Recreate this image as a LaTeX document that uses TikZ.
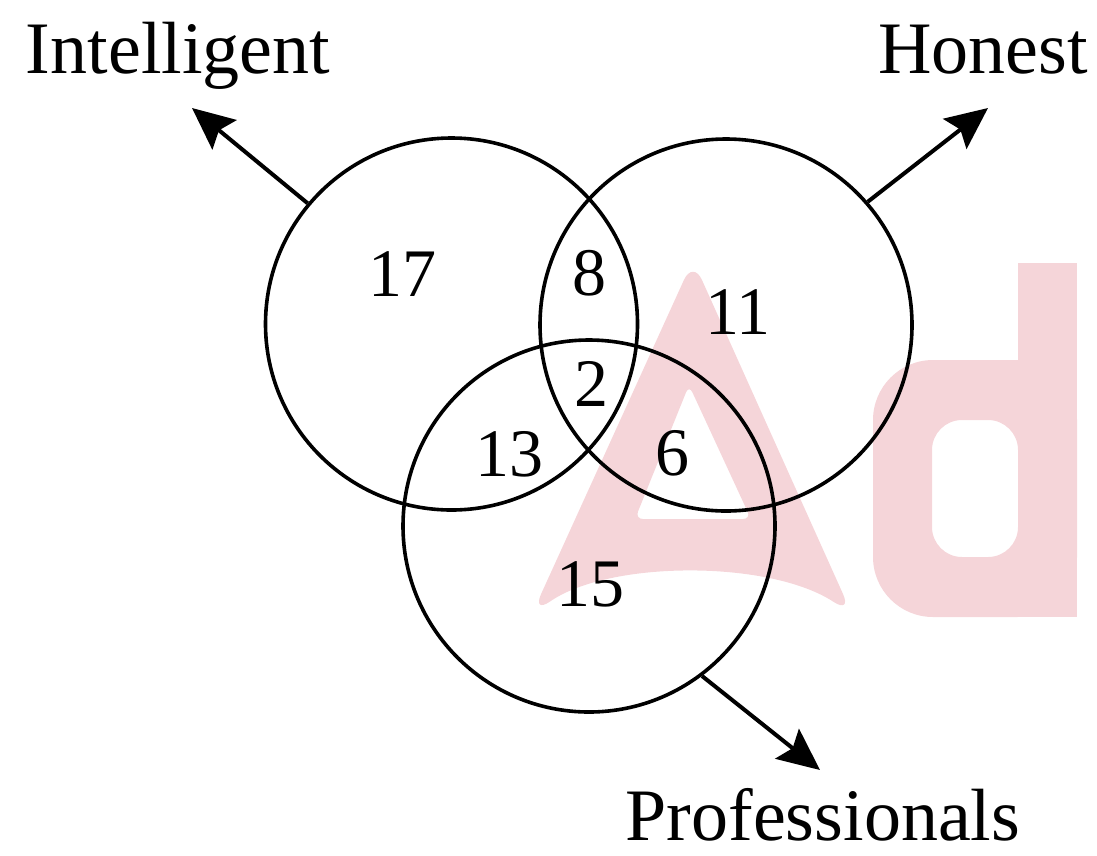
\documentclass[tikz,border=0pt]{standalone}
\usepackage{fontspec}
\setmainfont{Liberation Serif}
\usetikzlibrary{arrows.meta}
\definecolor{wmpink}{RGB}{245,213,217}
\begin{document}
\begin{tikzpicture}[x=1pt,y=-1pt,
  setc/.style={circle,draw,line width=3.6pt,minimum size=372pt,inner sep=0pt},
  num/.style={font=\fontsize{68}{78}\selectfont, inner sep=0pt},
  lab/.style={font=\fontsize{74}{84}\selectfont, inner sep=0pt, anchor=base},
  arr/.style={line width=4pt,-{Stealth[length=42pt,width=38pt,inset=7pt]}}]
\useasboundingbox (0,0) rectangle (1097,855);
% watermark logo
\fill[wmpink, even odd rule, rounded corners=22pt]
  (693,260) -- (852,614) .. controls (770,560) and (610,560) .. (532,614) -- cycle
  [rounded corners=8pt] (689,385) -- (751,519) -- (635,519) -- cycle;
\fill[wmpink, even odd rule]
  [rounded corners=60pt] (1077,360) -- (873,360) -- (873,617) -- (1077,617) -- cycle
  [rounded corners=30pt] (1018,420) -- (932,420) -- (932,557) -- (1018,557) -- cycle;
\fill[wmpink] (1018,263) rectangle (1077,617);
% circles
\node[setc] (I) at (451.5,324) {};
\node[setc] (H) at (726,325) {};
\node[setc] (P) at (589,526) {};
% numbers
\node[num] (n17) at (402,274) {17};
\node[num] (n8)  at (589,273) {8};
\node[num] (n11) at (738,312) {11};
\node[num] (n2)  at (591,384) {2};
\node[num] (n13) at (509,454) {13};
\node[num] (n6)  at (672,453) {6};
\node[num] (n15) at (590,584) {15};
% labels
\node[lab] (li) at (178,73) {Intelligent};
\node[lab] (lh) at (983,73) {Honest};
\node[lab] (lp) at (823,840) {Professionals};
% arrows
\coordinate (tI) at (192,108);
\coordinate (tH) at (988,108);
\coordinate (tP) at (820,770);
\draw[arr] (I.140) -- (tI);
\draw[arr] (H.41) -- (tH);
\draw[arr] (P.-53) -- (tP);
\end{tikzpicture}
\end{document}
